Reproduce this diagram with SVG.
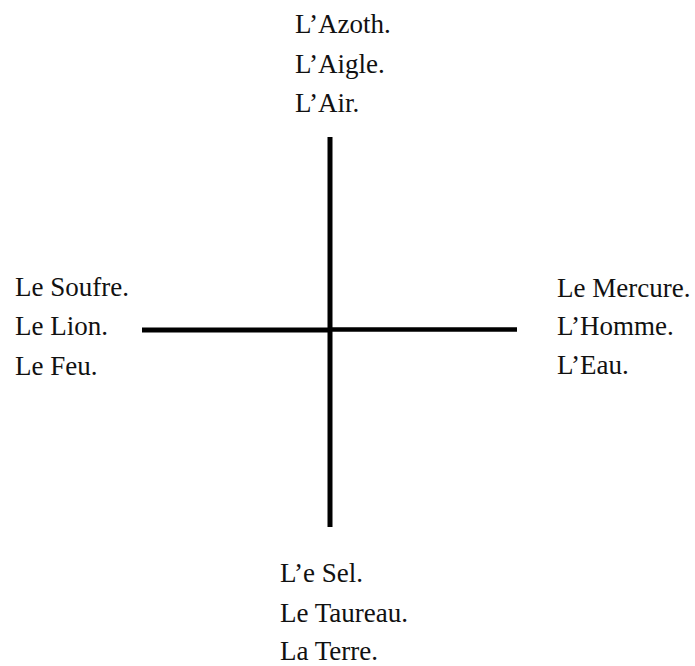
<svg xmlns="http://www.w3.org/2000/svg" width="695" height="666" viewBox="0 0 695 666">
<style>
text{font-family:"Liberation Serif","Times New Roman",serif;font-size:27px;fill:#111}
.ax{stroke:#000;stroke-linecap:butt;fill:none}
</style>
<rect width="695" height="666" fill="#fff"/>
<g id="connectors">
<line class="ax" x1="330" y1="137" x2="330" y2="527" stroke-width="5"/>
<line class="ax" x1="142" y1="330" x2="331" y2="330" stroke-width="5"/>
<line class="ax" x1="331" y1="329.5" x2="517" y2="329.5" stroke-width="4.5"/>
</g>
<g id="top"><text x="295" y="33">L’Azoth.</text><text x="295" y="73">L’Aigle.</text><text x="295" y="112">L’Air.</text></g>
<g id="left"><text x="15" y="296">Le Soufre.</text><text x="15" y="335">Le Lion.</text><text x="15" y="375">Le Feu.</text></g>
<g id="right"><text x="557" y="297">Le Mercure.</text><text x="557" y="335">L’Homme.</text><text x="557" y="374">L’Eau.</text></g>
<g id="bottom"><text x="280" y="582">L’e Sel.</text><text x="280" y="622">Le Taureau.</text><text x="280" y="660">La Terre.</text></g>
</svg>
